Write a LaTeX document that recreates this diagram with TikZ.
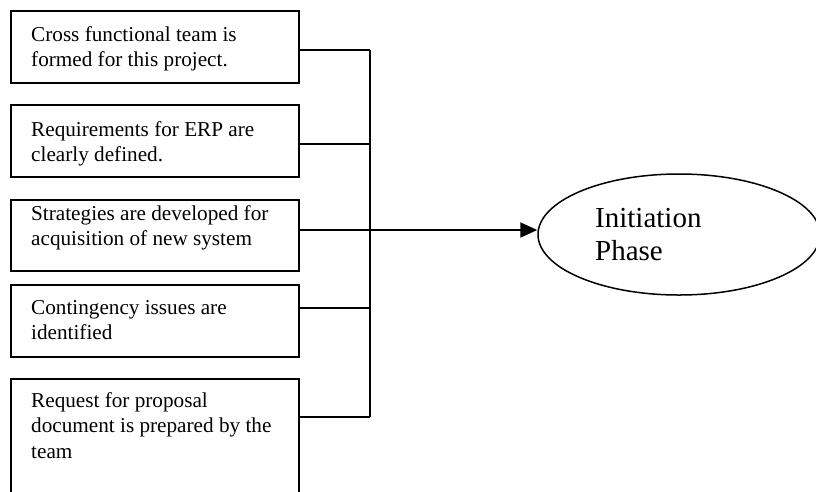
\documentclass[tikz,border=0pt]{standalone}
\usepackage{fontspec}
\setmainfont{Liberation Serif}
\usetikzlibrary{shapes.geometric,arrows.meta}
\tikzset{
  boxst/.style={draw, line width=1.8pt, rectangle, inner sep=0pt, anchor=north west, minimum width=288pt},
  txt/.style={inner sep=0pt, anchor=base west, font=\fontsize{21.2}{25.5}\selectfont},
  bigtxt/.style={inner sep=0pt, anchor=base west, font=\fontsize{29}{33}\selectfont},
  conn/.style={line width=1.6pt},
  arr/.style={line width=1.9pt, -{Triangle[length=17pt,width=15pt]}},
  ellst/.style={draw, ellipse, line width=1.5pt, inner sep=0pt, minimum width=282pt, minimum height=121pt}
}
\begin{document}
\begin{tikzpicture}[x=1pt,y=-1pt]
\useasboundingbox (0,0) rectangle (816,491);
\begin{scope}
\clip (0,0) rectangle (816,491);
\node[boxst, minimum height=72pt] (b1) at (10,10) {};
\node[boxst, minimum height=72pt] (b2) at (10,104) {};
\node[boxst, minimum height=71pt] (b3) at (10,199) {};
\node[boxst, minimum height=72pt] (b4) at (10,284) {};
\node[boxst, minimum height=130pt] (b5) at (10,378) {};
\node[ellst] (ell) at (679,234.5) {};
\end{scope}

\node[txt] (t1) at (31,41) {\begin{tabular}[t]{@{}l@{}}Cross functional team is\\formed for this project.\end{tabular}};
\node[txt] (t2) at (31,136) {\begin{tabular}[t]{@{}l@{}}Requirements for ERP are\\clearly defined.\end{tabular}};
\node[txt] (t3) at (31,220) {\begin{tabular}[t]{@{}l@{}}Strategies are developed for\\acquisition of new system\end{tabular}};
\node[txt] (t4) at (31,314) {\begin{tabular}[t]{@{}l@{}}Contingency issues are\\identified\end{tabular}};
\node[txt] (t5) at (31,407) {\begin{tabular}[t]{@{}l@{}}Request for proposal\\document is prepared by the\\team\end{tabular}};
\node[bigtxt] (te) at (595,227) {\begin{tabular}[t]{@{}l@{}}Initiation\\Phase\end{tabular}};

\coordinate (j1) at (370,50);
\coordinate (j2) at (370,144);
\coordinate (j3) at (370,230);
\coordinate (j4) at (370,308);
\coordinate (j5) at (370,417);

\draw[conn] (b1.east |- j1) -- (j1);
\draw[conn] (b2.east |- j2) -- (j2);
\draw[conn] (b4.east |- j4) -- (j4);
\draw[conn] (b5.east |- j5) -- (j5);
\draw[conn] (j1) -- (j5);
\draw[arr] (b3.east |- j3) -- (j3 -| ell.west);
\end{tikzpicture}
\end{document}
